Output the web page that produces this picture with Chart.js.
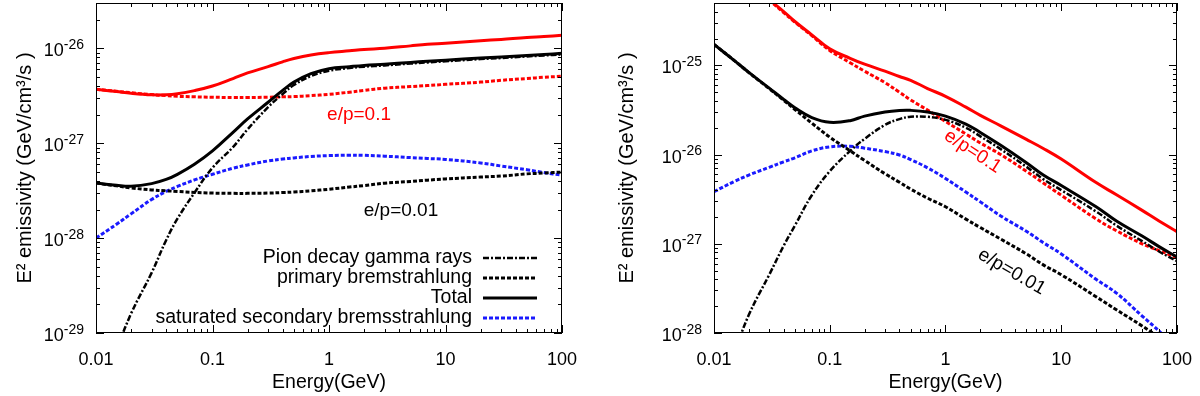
<!DOCTYPE html>
<html>
<head>
<meta charset="utf-8">
<script src="https://cdn.jsdelivr.net/npm/chart.js@4/dist/chart.umd.min.js"></script>
<style>
  body { margin: 0; background: #fff; }
  canvas { position: absolute; top: 0; }
</style>
</head>
<body>
<canvas id="leftChart" width="600" height="396" style="left:0"></canvas>
<canvas id="rightChart" width="600" height="396" style="left:600px"></canvas>
<script>
// energy grid (GeV), shared by every curve
const energy = [0.01, 0.015, 0.02, 0.03, 0.04, 0.05, 0.07, 0.1, 0.15, 0.2, 0.3, 0.4, 0.5, 0.7,
                1, 1.5, 2, 3, 5, 7, 10, 20, 30, 50, 70, 100];

// left panel
const pionLeft    = [1.5e-30, 6.5e-30, 1.6e-29, 4.3e-29, 9.5e-29, 1.6e-28, 3.0e-28, 5.5e-28, 9.1e-28, 1.4e-27, 2.4e-27, 3.3e-27, 4.1e-27, 5.1e-27,
                     5.8e-27, 6.2e-27, 6.4e-27, 6.6e-27, 6.9e-27, 7.1e-27, 7.3e-27, 7.7e-27, 7.9e-27, 8.2e-27, 8.4e-27, 8.6e-27];
const primLeft    = [3.8e-28, 3.55e-28, 3.38e-28, 3.22e-28, 3.15e-28, 3.1e-28, 3.03e-28, 2.98e-28, 2.96e-28, 2.96e-28, 2.98e-28, 3.02e-28, 3.06e-28, 3.15e-28,
                     3.27e-28, 3.45e-28, 3.58e-28, 3.79e-28, 3.95e-28, 4.08e-28, 4.2e-28, 4.4e-28, 4.5e-28, 4.75e-28, 4.85e-28, 4.96e-28];
const totalLeft   = [3.8e-28, 3.6e-28, 3.52e-28, 3.75e-28, 4.15e-28, 4.7e-28, 6.0e-28, 8.3e-28, 1.3e-27, 1.8e-27, 2.7e-27, 3.6e-27, 4.4e-27, 5.4e-27,
                     6.1e-27, 6.4e-27, 6.6e-27, 6.8e-27, 7.1e-27, 7.3e-27, 7.5e-27, 7.9e-27, 8.1e-27, 8.4e-27, 8.6e-27, 8.85e-27];
const secLeft     = [1.0e-28, 1.4e-28, 1.8e-28, 2.55e-28, 3.1e-28, 3.5e-28, 4.1e-28, 4.7e-28, 5.45e-28, 5.9e-28, 6.5e-28, 6.8e-28, 7.0e-28, 7.25e-28,
                     7.4e-28, 7.48e-28, 7.45e-28, 7.3e-28, 7.05e-28, 6.9e-28, 6.75e-28, 6.2e-28, 5.75e-28, 5.25e-28, 4.9e-28, 4.6e-28];
const primHiLeft  = [3.7e-27, 3.52e-27, 3.4e-27, 3.25e-27, 3.17e-27, 3.12e-27, 3.08e-27, 3.05e-27, 3.03e-27, 3.03e-27, 3.05e-27, 3.08e-27, 3.1e-27, 3.17e-27,
                     3.27e-27, 3.45e-27, 3.6e-27, 3.8e-27, 3.95e-27, 4.05e-27, 4.17e-27, 4.4e-27, 4.6e-27, 4.8e-27, 4.95e-27, 5.07e-27];
const totalHiLeft = [3.7e-27, 3.5e-27, 3.36e-27, 3.24e-27, 3.24e-27, 3.32e-27, 3.58e-27, 4.0e-27, 4.8e-27, 5.5e-27, 6.4e-27, 7.2e-27, 7.8e-27, 8.5e-27,
                     9.0e-27, 9.4e-27, 9.7e-27, 1.0e-26, 1.06e-26, 1.1e-26, 1.13e-26, 1.2e-26, 1.24e-26, 1.3e-26, 1.33e-26, 1.37e-26];

// right panel
const pionRight    = [1.5e-29, 6e-29, 1.6e-28, 4.5e-28, 9.5e-28, 1.6e-27, 3.5e-27, 6.5e-27, 1.1e-26, 1.5e-26, 2.15e-26, 2.5e-26, 2.65e-26, 2.65e-26,
                      2.45e-26, 2.0e-26, 1.6e-26, 1.15e-26, 7.3e-27, 5.3e-27, 4.0e-27, 2.3e-27, 1.6e-27, 1.07e-27, 8.2e-28, 6.4e-28];
const primRight    = [1.72e-25, 1.13e-25, 8.3e-26, 5.48e-26, 4.06e-26, 3.2e-26, 2.25e-26, 1.57e-26, 1.1e-26, 8.6e-27, 6.1e-27, 4.9e-27, 4.1e-27, 3.25e-27,
                      2.6e-27, 1.89e-27, 1.52e-27, 1.13e-27, 7.7e-28, 5.8e-28, 4.5e-28, 2.55e-28, 1.82e-28, 1.2e-28, 9.0e-29, 6.6e-29];
const totalRight   = [1.72e-25, 1.13e-25, 8.35e-26, 5.55e-26, 4.15e-26, 3.35e-26, 2.6e-26, 2.3e-26, 2.4e-26, 2.7e-26, 3.0e-26, 3.12e-26, 3.13e-26, 3.0e-26,
                      2.7e-26, 2.2e-26, 1.77e-26, 1.27e-26, 8.1e-27, 5.9e-27, 4.5e-27, 2.6e-27, 1.8e-27, 1.22e-27, 9.3e-28, 7.1e-28];
const secRight     = [3.84e-27, 5.0e-27, 5.9e-27, 7.2e-27, 8.3e-27, 9.2e-27, 1.1e-26, 1.22e-26, 1.24e-26, 1.18e-26, 1.08e-26, 9.9e-27, 8.8e-27, 7.1e-27,
                      5.4e-27, 3.8e-27, 2.95e-27, 2.05e-27, 1.38e-27, 1.03e-27, 7.7e-28, 4.0e-28, 2.8e-28, 1.55e-28, 1.05e-28, 6.6e-29];
const primHiRight  = [1.8e-24, 1.15e-24, 8.4e-25, 5.4e-25, 3.9e-25, 3.05e-25, 2.15e-25, 1.47e-25, 1.07e-25, 8.6e-26, 6.4e-26, 5.0e-26, 4.1e-26, 3.15e-26,
                      2.35e-26, 1.7e-26, 1.35e-26, 1.0e-26, 6.5e-27, 4.8e-27, 3.5e-27, 1.9e-27, 1.4e-27, 1.0e-27, 8.4e-28, 7.0e-28];
const totalHiRight = [1.8e-24, 1.15e-24, 8.4e-25, 5.45e-25, 4.0e-25, 3.1e-25, 2.2e-25, 1.53e-25, 1.2e-25, 1.03e-25, 8.6e-26, 7.5e-26, 6.8e-26, 5.5e-26,
                      4.5e-26, 3.4e-26, 2.75e-26, 2.1e-26, 1.48e-26, 1.17e-26, 8.9e-27, 4.85e-27, 3.55e-27, 2.37e-27, 1.8e-27, 1.37e-27];

// axes
const xTickValues = [0.01, 0.1, 1, 10, 100];
const xTickLabels = ['0.01', '0.1', '1', '10', '100'];
const leftYExponents = [-29, -28, -27, -26];
const rightYExponents = [-28, -27, -26, -25];
const seriesNames = ['Pion decay gamma rays', 'primary bremstrahlung', 'Total', 'saturated secondary bremsstrahlung'];

const FONT = "'Liberation Sans', Arial, Helvetica, sans-serif";
Chart.defaults.font.family = FONT;
Chart.defaults.color = '#000';

const RED = '#ff0000';
const BLUE = '#1a1aff';
const BLACK = '#000000';

function points(values) {
    return energy.map((e, i) => ({ x: e, y: values[i] }));
}

function line(label, values, color, kind) {
    const dash = { solid: [], dotted: [4, 2], dashdot: [6, 2, 2, 2] }[kind];
    return {
        label: label,
        data: points(values),
        borderColor: color,
        borderWidth: kind === 'dashdot' ? 2.5 : 3,
        borderDash: dash,
        pointRadius: 0,
        fill: false,
        tension: 0.4
    };
}

// ticks inside the frame on all four sides, plus 10^n labels
function logSteps(min, max) {
    const out = [];
    for (let e = Math.floor(Math.log10(min)); e <= Math.ceil(Math.log10(max)); e++) {
        for (let m = 1; m <= 9; m++) {
            const v = m * Math.pow(10, e);
            if (v >= min * 0.999 && v <= max * 1.001) out.push({ v: v, major: m === 1 });
        }
    }
    return out;
}

function framePlugin(yExponents, notes, legend) {
    return {
        id: 'frame',
        afterDatasetsDraw(chart) {
            const ctx = chart.ctx;
            const a = chart.chartArea;
            const xs = chart.scales.x, ys = chart.scales.y;
            ctx.save();
            ctx.strokeStyle = '#000';
            ctx.lineWidth = 1;
            ctx.setLineDash([]);
            ctx.beginPath();
            logSteps(xs.min, xs.max).forEach(t => {
                const p = Math.round(xs.getPixelForValue(t.v)) + 0.5;
                const len = t.major ? 8 : 4;
                ctx.moveTo(p, a.bottom); ctx.lineTo(p, a.bottom - len);
                ctx.moveTo(p, a.top); ctx.lineTo(p, a.top + len);
            });
            logSteps(ys.min, ys.max).forEach(t => {
                const p = Math.round(ys.getPixelForValue(t.v)) + 0.5;
                const len = t.major ? 8 : 4;
                ctx.moveTo(a.left, p); ctx.lineTo(a.left + len, p);
                ctx.moveTo(a.right, p); ctx.lineTo(a.right - len, p);
            });
            ctx.stroke();
            ctx.strokeRect(Math.round(a.left) + 0.5, Math.round(a.top) + 0.5,
                           Math.round(a.width) - 1, Math.round(a.height) - 1);

            // y tick labels with superscript exponents
            ctx.fillStyle = '#000';
            ctx.textAlign = 'right';
            ctx.textBaseline = 'alphabetic';
            yExponents.forEach(ex => {
                const p = ys.getPixelForValue(Math.pow(10, ex));
                const xr = a.left - 12;
                ctx.font = '14px ' + FONT;
                const sup = String(ex);
                const w = ctx.measureText(sup).width;
                ctx.fillText(sup, xr, p + 0.5);
                ctx.font = '18px ' + FONT;
                ctx.fillText('10', xr - w, p + 8);
            });

            // curve labels
            ctx.font = '19px ' + FONT;
            ctx.textAlign = 'center';
            ctx.textBaseline = 'middle';
            notes.forEach(n => {
                ctx.save();
                ctx.translate(xs.getPixelForValue(n.e), ys.getPixelForValue(n.v));
                ctx.rotate(n.rot * Math.PI / 180);
                ctx.fillStyle = n.color;
                ctx.fillText(n.text, 0, 0);
                ctx.restore();
            });

            // key
            if (legend) {
                ctx.font = '19.5px ' + FONT;
                ctx.textAlign = 'right';
                legend.forEach((idx, row) => {
                    const ds = chart.data.datasets[idx];
                    const yy = a.bottom - 75 + row * 20;
                    ctx.fillStyle = '#000';
                    ctx.fillText(ds.label, a.right - 90, yy);
                    ctx.beginPath();
                    ctx.strokeStyle = ds.borderColor;
                    ctx.lineWidth = ds.borderWidth;
                    ctx.setLineDash(ds.borderDash);
                    ctx.moveTo(a.right - 79, yy);
                    ctx.lineTo(a.right - 25, yy);
                    ctx.stroke();
                });
            }
            ctx.restore();
        }
    };
}

function makeChart(id, d, yRange, yExponents, yAxisWidth, padRight, titlePad, notes, legend) {
    const ctx = document.getElementById(id).getContext('2d');
    const datasets = [
        line(seriesNames[0], d.pion, BLACK, 'dashdot'),
        line(seriesNames[2], d.total, BLACK, 'solid'),
        line(seriesNames[1], d.prim, BLACK, 'dotted'),
        line(seriesNames[3], d.sec, BLUE, 'dotted'),
        line('primary bremstrahlung e/p=0.1', d.primHi, RED, 'dotted'),
        line('Total e/p=0.1', d.totalHi, RED, 'solid')
    ];
    return new Chart(ctx, {
        type: 'line',
        data: { datasets: datasets },
        options: {
            responsive: false,
            animation: false,
            devicePixelRatio: 1,
            events: [],
            layout: { padding: { top: 3, right: padRight, left: 0, bottom: 0 } },
            plugins: { legend: { display: false }, tooltip: { enabled: false } },
            scales: {
                x: {
                    type: 'logarithmic',
                    min: 0.01,
                    max: 100,
                    afterBuildTicks: s => { s.ticks = xTickValues.map(v => ({ value: v })); },
                    afterFit: s => { s.height = 63; },
                    grid: { display: false },
                    border: { display: false },
                    ticks: {
                        autoSkip: false,
                        maxRotation: 0,
                        padding: 8,
                        font: { size: 18 },
                        callback: (v, i) => xTickLabels[i]
                    },
                    title: { display: true, text: 'Energy(GeV)', font: { size: 19.5 }, padding: { top: 0, bottom: 2 } }
                },
                y: {
                    type: 'logarithmic',
                    min: yRange[0],
                    max: yRange[1],
                    afterFit: s => { s.width = yAxisWidth; },
                    grid: { display: false },
                    border: { display: false },
                    ticks: { display: false },
                    title: { display: true, text: 'E² emissivity (GeV/cm³/s )', font: { size: 20 }, padding: { top: titlePad, bottom: 0 } }
                }
            }
        },
        plugins: [framePlugin(yExponents, notes, legend)]
    });
}

makeChart('leftChart',
    { pion: pionLeft, prim: primLeft, total: totalLeft, sec: secLeft, primHi: primHiLeft, totalHi: totalHiLeft },
    [1e-29, 3e-26], leftYExponents, 96, 38, 13,
    [
        { text: 'e/p=0.1', color: RED, e: 1.81, v: 1.97e-27, rot: 0 },
        { text: 'e/p=0.01', color: BLACK, e: 4.15, v: 1.92e-28, rot: 0 }
    ],
    [0, 2, 1, 3]);

makeChart('rightChart',
    { pion: pionRight, prim: primRight, total: totalRight, sec: secRight, primHi: primHiRight, totalHi: totalHiRight },
    [1e-28, 5e-25], rightYExponents, 114, 21, 15,
    [
        { text: 'e/p=0.1', color: RED, e: 1.72, v: 1.08e-26, rot: 33 },
        { text: 'e/p=0.01', color: BLACK, e: 3.73, v: 4.84e-28, rot: 30 }
    ],
    null);
</script>
</body>
</html>
